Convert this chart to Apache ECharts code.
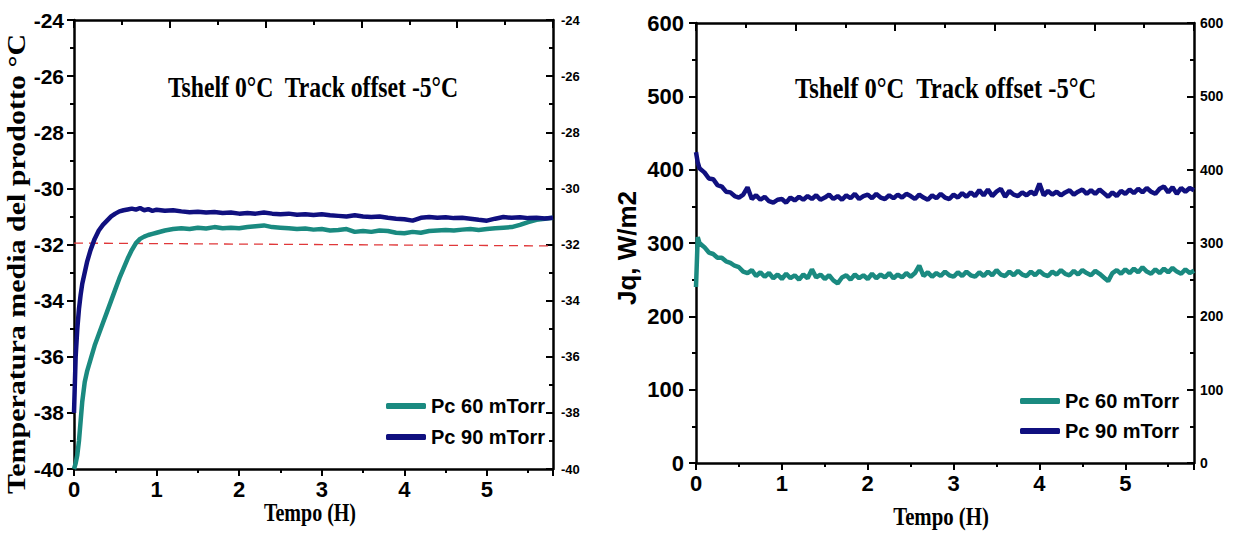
<!DOCTYPE html>
<html><head><meta charset="utf-8">
<script src="https://cdn.jsdelivr.net/npm/echarts@6/dist/echarts.min.js"></script>
<style>html,body{margin:0;padding:0;background:#fff}#c{width:1234px;height:540px}</style>
</head><body><div id="c"></div><script>
// ---------- data ----------
const seriesNames = ['Pc 60 mTorr', 'Pc 90 mTorr'];
const titleText = 'Tshelf 0°C  Track offset -5°C';
const yNameLeft = 'Temperatura media del prodotto °C';
const yNameRight = 'Jq, W/m2';
const xName = 'Tempo (H)';

// left chart: product temperature (°C) vs time (h)
const timeL = [0,0.02,0.04,0.06,0.08,0.1,0.13,0.16,0.2,0.25,0.3,0.35,0.4,0.45,0.5,0.55,0.6,0.65,0.7,0.75,0.8,0.85,0.9,0.95,1.0,
  1.1,1.2,1.3,1.4,1.5,1.6,1.7,1.8,1.9,2.0,2.1,2.2,2.3,2.4,2.5,2.6,2.7,2.8,2.9,3.0,3.1,3.2,3.3,3.4,3.5,3.6,3.7,3.8,3.9,4.0,
  4.1,4.2,4.3,4.4,4.5,4.6,4.7,4.8,4.9,5.0,5.1,5.2,5.3,5.4,5.5,5.6,5.7,5.8];
const temp60 = [-40,-39.8,-39.5,-39.0,-38.3,-37.6,-36.9,-36.5,-36.1,-35.6,-35.2,-34.8,-34.4,-34.0,-33.6,-33.2,-32.85,-32.5,-32.2,-31.95,-31.8,-31.72,-31.66,-31.62,-31.58,
  -31.5,-31.45,-31.42,-31.45,-31.4,-31.43,-31.38,-31.42,-31.4,-31.42,-31.38,-31.35,-31.32,-31.38,-31.4,-31.42,-31.45,-31.43,-31.47,-31.45,-31.5,-31.48,-31.45,-31.55,-31.52,-31.55,-31.5,-31.52,-31.58,-31.6,
  -31.55,-31.58,-31.52,-31.5,-31.48,-31.5,-31.47,-31.45,-31.48,-31.45,-31.42,-31.4,-31.38,-31.3,-31.2,-31.12,-31.08,-31.05];
const temp90 = [-38.0,-36.0,-35.0,-34.3,-33.8,-33.4,-33.0,-32.6,-32.2,-31.8,-31.5,-31.3,-31.15,-31.0,-30.9,-30.82,-30.78,-30.75,-30.72,-30.76,-30.7,-30.78,-30.74,-30.8,-30.76,
  -30.8,-30.78,-30.82,-30.85,-30.83,-30.86,-30.84,-30.88,-30.86,-30.9,-30.88,-30.9,-30.86,-30.9,-30.92,-30.9,-30.94,-30.92,-30.95,-30.92,-30.96,-30.98,-31.0,-30.96,-31.0,-31.02,-31.0,-31.05,-31.08,-31.1,
  -31.15,-31.05,-31.02,-31.05,-31.03,-31.06,-31.05,-31.08,-31.12,-31.15,-31.08,-31.02,-31.05,-31.03,-31.06,-31.05,-31.07,-31.05];
const refLineT = [0, 5.8];
const refLineV = [-31.95, -32.05];

// right chart: heat flux Jq (W/m2) vs time (h)
const timeR = [0,0.02,0.04,0.08,
  0.10,0.15,0.20,0.25,0.30,0.35,0.40,0.45,0.50,0.55,
  0.60,0.65,0.70,0.75,0.80,0.85,0.90,0.95,1.00,1.05,
  1.10,1.15,1.20,1.25,1.30,1.35,1.40,1.45,1.50,1.55,
  1.60,1.65,1.70,1.75,1.80,1.85,1.90,1.95,2.00,2.05,
  2.10,2.15,2.20,2.25,2.30,2.35,2.40,2.45,2.50,2.55,
  2.60,2.65,2.70,2.75,2.80,2.85,2.90,2.95,3.00,3.05,
  3.10,3.15,3.20,3.25,3.30,3.35,3.40,3.45,3.50,3.55,
  3.60,3.65,3.70,3.75,3.80,3.85,3.90,3.95,4.00,4.05,
  4.10,4.15,4.20,4.25,4.30,4.35,4.40,4.45,4.50,4.55,
  4.60,4.65,4.70,4.75,4.80,4.85,4.90,4.95,5.00,5.05,
  5.10,5.15,5.20,5.25,5.30,5.35,5.40,5.45,5.50,5.55,
  5.60,5.65,5.70,5.75,5.80];
const jq90 = [424,410,402,398,
  396,388,387,379,377,370,369,364,362,366,
  376,360,365,359,363,357,355,359,360,355,
  362,358,363,359,364,360,365,359,362,366,
  360,364,359,365,361,367,360,364,366,361,
  367,362,360,365,361,366,362,367,364,360,
  366,362,359,365,361,367,362,360,366,362,
  368,363,369,364,372,365,373,364,370,374,
  363,371,366,364,369,365,370,366,381,365,
  371,366,370,365,369,372,366,370,373,367,
  372,367,373,368,363,369,364,371,367,373,
  368,374,369,375,370,367,374,377,369,376,
  367,375,370,375,372];
const jq60 = [240,308,300,296,
  294,287,285,280,280,275,273,269,267,261,
  259,263,255,260,254,259,252,257,251,258,
  252,256,250,257,252,264,253,257,251,256,
  249,245,253,256,250,257,252,256,251,258,
  252,257,253,259,252,257,253,259,254,259,
  269,255,260,254,259,255,261,256,254,260,
  255,261,256,254,260,255,261,256,263,257,
  255,261,256,262,257,255,261,256,262,257,
  255,261,257,263,258,256,262,257,263,259,
  256,262,258,253,248,259,263,258,264,259,
  265,260,267,261,258,264,259,265,260,266,
  261,258,264,259,262];

// ---------- styles ----------
const TEAL = '#1a8a80', NAVY = '#10107f', RED = '#e0383a';
const SANS = "'Liberation Sans',Arial,sans-serif";
const SERIF = "'Liberation Serif','Times New Roman',serif";
const AX = {color:'#000', width:2.5};
const TK = {color:'#000', width:2};

function zip(a, b){ return a.map((v,i)=>[v, b[i]]); }

function xBottom(gi){
  return {type:'value', gridIndex:gi, position:'bottom', min:0, max:5.8, interval:1,
    axisLine:{show:true, onZero:false, lineStyle:AX},
    axisTick:{show:true, inside:false, length:7, lineStyle:TK},
    minorTick:{show:true, splitNumber:2, length:4, lineStyle:TK},
    splitLine:{show:false}, minorSplitLine:{show:false},
    axisLabel:{margin:9, color:'#000', fontSize:22, fontWeight:'bold', fontFamily:SANS,
      formatter:v => (Math.abs(v-Math.round(v))<1e-6 ? String(Math.round(v)) : '')}};
}
function xTop(gi){
  return {type:'value', gridIndex:gi, position:'top', min:0, max:5.8, interval:1.16,
    axisLine:{show:true, onZero:false, lineStyle:AX},
    axisTick:{show:true, inside:true, length:8, lineStyle:TK},
    minorTick:{show:true, splitNumber:2, length:5, lineStyle:TK},
    splitLine:{show:false}, minorSplitLine:{show:false}, axisLabel:{show:false}};
}
function yLeft(gi, mn, mx, iv, margin, fs){
  return {type:'value', gridIndex:gi, position:'left', min:mn, max:mx, interval:iv,
    axisLine:{show:true, onZero:false, lineStyle:AX},
    axisTick:{show:true, inside:false, length:7, lineStyle:TK},
    minorTick:{show:true, splitNumber:2, length:4, lineStyle:TK},
    splitLine:{show:false}, minorSplitLine:{show:false},
    axisLabel:{margin:margin, color:'#000', fontSize:fs, fontWeight:'bold', fontFamily:SANS}};
}
function yRight(gi, mn, mx, iv, fs, margin){
  return {type:'value', gridIndex:gi, position:'right', min:mn, max:mx, interval:iv,
    axisLine:{show:true, onZero:false, lineStyle:AX},
    axisTick:{show:true, inside:true, length:7, lineStyle:TK},
    minorTick:{show:true, splitNumber:2, length:4, lineStyle:TK},
    splitLine:{show:false}, minorSplitLine:{show:false},
    axisLabel:{margin:margin, color:'#000', fontSize:fs, fontWeight:'bold', fontFamily:SANS}};
}
function lineSeries(name, xi, yi, data, color){
  return {name:name, type:'line', xAxisIndex:xi, yAxisIndex:yi, data:data,
    symbol:'none', showSymbol:false, animation:false, z:3,
    lineStyle:{color:color, width:4.5}, itemStyle:{color:color}};
}
function legendAt(left, top, gap){
  return {data:seriesNames, left:left, top:top, orient:'vertical', itemWidth:40, itemHeight:6, itemGap:gap,
    icon:'roundRect', selectedMode:false,
    textStyle:{fontSize:20, fontWeight:'bold', fontFamily:SANS, color:'#000'}};
}
function txt(x, y, text, size, fam, extra, align){
  return Object.assign({type:'text', x:x, y:y, silent:true,
    style:{text:text, fontSize:size, fontWeight:'bold', fontFamily:fam, fill:'#000', align:align||'center', verticalAlign:'middle'}}, extra||{});
}

const chart = echarts.init(document.getElementById('c'), null, {renderer:'svg'});
chart.setOption({
  backgroundColor:'#fff',
  animation:false,
  grid:[{left:74, top:20, width:479, height:449}, {left:696, top:23, width:498, height:440}],
  xAxis:[xBottom(0), xTop(0), xBottom(1), xTop(1)],
  yAxis:[yLeft(0,-40,-24,2,10,21), yRight(0,-40,-24,2,13,8), yLeft(1,0,600,100,12,22), yRight(1,0,600,100,14,6)],
  legend:[legendAt(381, 391, 11), legendAt(1015, 386, 10)],
  series:[
    {name:'ref', type:'line', xAxisIndex:0, yAxisIndex:0, data:zip(refLineT, refLineV), symbol:'none', z:2, silent:true,
      lineStyle:{color:RED, width:1.3, type:[9,6]}},
    lineSeries(seriesNames[0], 0, 0, zip(timeL, temp60), TEAL),
    lineSeries(seriesNames[1], 0, 0, zip(timeL, temp90), NAVY),
    lineSeries(seriesNames[0], 2, 2, zip(timeR, jq60), TEAL),
    lineSeries(seriesNames[1], 2, 2, zip(timeR, jq90), NAVY)
  ],
  graphic:[
    txt(168, 87, titleText, 30, SERIF, {scaleX:0.79}, 'left'),
    txt(795, 88, titleText, 30, SERIF, {scaleX:0.82}, 'left'),
    txt(16, 264, yNameLeft, 30, SERIF, {rotation:Math.PI/2, scaleY:0.85}),
    txt(627, 248, yNameRight, 26, SANS, {rotation:Math.PI/2}),
    txt(310, 512, xName, 26, SERIF, {scaleX:0.77}),
    txt(941, 516, xName, 26, SERIF, {scaleX:0.8})
  ]
});
</script></body></html>
